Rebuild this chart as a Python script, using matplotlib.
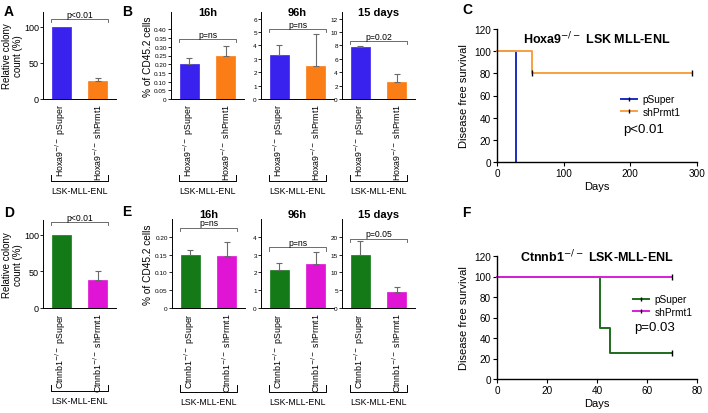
"""
Prmt1 knockdown in Hoxa9-/- and Ctnnb1-/- LSK-MLL-ENL cells
"""

import matplotlib
matplotlib.use('Agg')
import matplotlib.pyplot as plt  # pylint: disable=import-error
from matplotlib.lines import Line2D

plt.rcParams['font.family'] = ['Liberation Sans', 'DejaVu Sans']

FIG_W, FIG_H = 708, 414

# ---- data ----
hoxa_labels = [r'Hoxa9$^{-/-}$ pSuper', r'Hoxa9$^{-/-}$ shPrmt1']
ctnn_labels = [r'Ctnnb1$^{-/-}$ pSuper', r'Ctnnb1$^{-/-}$ shPrmt1']
group_label = 'LSK-MLL-ENL'
time_points = ['16h', '96h', '15 days']

colony_hoxa = [100, 25]
colony_hoxa_err = [0, 4]
colony_ctnn = [100, 38]
colony_ctnn_err = [0, 12]

cd45_hoxa = [[0.20, 0.25], [3.3, 2.45], [7.7, 2.6]]
cd45_hoxa_err = [[0.035, 0.055], [0.7, 2.4], [0.25, 1.1]]
cd45_ctnn = [[0.15, 0.145], [2.15, 2.5], [15.0, 4.4]]
cd45_ctnn_err = [[0.013, 0.04], [0.37, 0.67], [3.8, 1.5]]

pval_colony_hoxa = 'p<0.01'
pval_colony_ctnn = 'p<0.01'
pval_cd45_hoxa = ['p=ns', 'p=ns', 'p=0.02']
pval_cd45_ctnn = ['p=ns', 'p=ns', 'p=0.05']

# survival curves (step, post)
c_psuper_days = [0, 28]
c_psuper_surv = [100, 0]
c_shprmt_days = [0, 53, 293]
c_shprmt_surv = [100, 80, 80]
c_shprmt_cens = ([53, 293], [80, 80])

f_psuper_days = [0, 41, 45, 70]
f_psuper_surv = [100, 50, 25, 25]
f_psuper_cens = ([70], [25])
f_shprmt_days = [0, 70]
f_shprmt_surv = [100, 100]
f_shprmt_cens = ([70], [100])

BLUE = '#3a22ee'
ORANGE = '#fb7d16'
GREEN = '#137a17'
MAGENTA = '#e014d4'
K_BLUE = '#1e2bc0'
K_ORANGE = '#f7a041'
K_GREEN = '#1d6b1d'
K_MAGENTA = '#d81ed8'


def px_axes(fig, x0, x1, y0, y1):
    """add axes from pixel box (top-left origin)"""
    return fig.add_axes([x0 / FIG_W, 1 - y1 / FIG_H,
                         (x1 - x0) / FIG_W, (y1 - y0) / FIG_H])


def bar_panel(ax, values, errs, colors, labels, ylim, yticks, yticklabels,
              pval, bracket_y, tick_size, label_size=6.3):
    """bar chart in GraphPad style"""
    xs = [0, 1]
    ax.bar(xs, values, width=0.52, color=colors, edgecolor=colors, lw=0.5)
    for x, v, e in zip(xs, values, errs):
        if e > 0:
            ax.errorbar(x, v, yerr=[[0], [e]], color='#6a6a6a', lw=0.8,
                        capsize=2.5, capthick=0.8)
    ax.set_xlim(-0.5, 1.5)
    ax.set_ylim(*ylim)
    ax.set_yticks(yticks)
    ax.set_yticklabels(yticklabels)
    ax.tick_params(axis='y', labelsize=tick_size, length=2, width=0.6, pad=1)
    ax.set_xticks(xs)
    ax.set_xticklabels(labels, rotation=90, fontsize=label_size)
    ax.tick_params(axis='x', length=0, pad=3)
    for side in ('top', 'right'):
        ax.spines[side].set_visible(False)
    ax.spines['left'].set_linewidth(0.7)
    ax.spines['bottom'].set_linewidth(0.7)
    # significance bracket
    drop = (ylim[1] - ylim[0]) * 0.035
    ax.plot([-0.27, -0.27, 1.27, 1.27],
            [bracket_y - drop, bracket_y, bracket_y, bracket_y - drop],
            color='#555555', lw=0.6, clip_on=False)
    ax.text(0.5, bracket_y + drop * 0.2, pval, ha='center', va='bottom',
            fontsize=6.2)
    # group bracket beneath labels
    trans = ax.get_xaxis_transform()
    ax.plot([-0.27, -0.27, 1.27, 1.27], [-0.87, -0.94, -0.94, -0.87],
            color='black', lw=0.7, transform=trans, clip_on=False)
    ax.text(0.5, -1.0, group_label, ha='center', va='top', fontsize=6.3,
            transform=trans)


def surv_panel(ax, curves, xlim, xticks, title, title_y, leg_xy, ptext, p_xy):
    """Kaplan-Meier style panel"""
    handles = []
    for days, surv, cens, color, name in curves:
        ax.plot(days, surv, drawstyle='steps-post', color=color, lw=1.4,
                clip_on=False)
        if cens is not None:
            ax.plot(cens[0], cens[1], ls='none', marker='|', ms=4,
                    mew=1.0, color='black', clip_on=False)
        handles.append(Line2D([], [], color=color, lw=1.4, marker='|',
                              ms=3.5, mec='black', label=name))
    ax.set_xlim(*xlim)
    ax.set_ylim(0, 120)
    ax.set_xticks(xticks)
    ax.set_yticks(range(0, 121, 20))
    ax.tick_params(labelsize=7.2, length=3, width=0.8, pad=1.5)
    for side in ('top', 'right'):
        ax.spines[side].set_visible(False)
    ax.spines['left'].set_linewidth(1.0)
    ax.spines['bottom'].set_linewidth(1.0)
    ax.set_xlabel('Days', fontsize=8, labelpad=2)
    ax.set_ylabel('Disease free survival', fontsize=8)
    ax.yaxis.set_label_coords(-0.14, 0.5)
    ax.text(0.5, title_y, title, transform=ax.transAxes, ha='center',
            va='center', fontsize=9, fontweight='bold')
    ax.legend(handles=handles, loc='upper left', bbox_to_anchor=leg_xy,
              frameon=False, fontsize=7.3, handlelength=1.6,
              handletextpad=0.5, labelspacing=0.25, borderaxespad=0)
    ax.text(p_xy[0], p_xy[1], ptext, transform=ax.transAxes, fontsize=9.5,
            ha='left', va='center')


def main():
    """
    Build the six-panel figure
    """
    fig = plt.figure(figsize=(FIG_W / 100, FIG_H / 100), dpi=100)

    # ---- A ----
    ax = px_axes(fig, 43, 116, 13, 100)
    bar_panel(ax, colony_hoxa, colony_hoxa_err, [BLUE, ORANGE], hoxa_labels,
              (0, 120), [0, 50, 100], ['0', '50', '100'], pval_colony_hoxa,
              110, 6.5)
    ax.set_ylabel('Relative colony\ncount (%)', fontsize=7.0, linespacing=1.1)
    ax.yaxis.set_label_coords(-0.28, 0.5)

    # ---- B ----
    b_specs = [((0, 0.5), [i * 0.05 for i in range(9)],
                ['0'] + ['%.2f' % (i * 0.05) for i in range(1, 9)], 0.343),
               ((0, 6.5), range(7), [str(i) for i in range(7)], 5.2),
               ((0, 13), range(0, 13, 2), [str(i) for i in range(0, 13, 2)],
                8.6)]
    b_x = [171, 261, 342]
    for k, (ylim, ticks, tlabels, by) in enumerate(b_specs):
        ax = px_axes(fig, b_x[k], b_x[k] + 73, 13, 100)
        bar_panel(ax, cd45_hoxa[k], cd45_hoxa_err[k], [BLUE, ORANGE],
                  hoxa_labels, ylim, ticks, tlabels, pval_cd45_hoxa[k], by,
                  4.6)
        ax.text(0.5, 1.0, time_points[k], transform=ax.transAxes,
                ha='center', va='center', fontsize=8, fontweight='bold')
        if k == 0:
            ax.set_ylabel('% of CD45.2 cells', fontsize=7.3)
            ax.yaxis.set_label_coords(-0.25, 0.5)

    # ---- D ----
    ax = px_axes(fig, 43, 116, 221, 309)
    bar_panel(ax, colony_ctnn, colony_ctnn_err, [GREEN, MAGENTA], ctnn_labels,
              (0, 120), [0, 50, 100], ['0', '50', '100'], pval_colony_ctnn,
              117, 6.5)
    ax.set_ylabel('Relative colony\ncount (%)', fontsize=7.0, linespacing=1.1)
    ax.yaxis.set_label_coords(-0.28, 0.5)

    # ---- E ----
    e_specs = [((0, 0.25), [i * 0.05 for i in range(5)],
                ['0'] + ['%.2f' % (i * 0.05) for i in range(1, 5)], 0.226),
               ((0, 5), range(5), [str(i) for i in range(5)], 3.4),
               ((0, 25), range(0, 21, 5), [str(i) for i in range(0, 21, 5)],
                19.5)]
    e_x = [172, 261, 342]
    for k, (ylim, ticks, tlabels, by) in enumerate(e_specs):
        ax = px_axes(fig, e_x[k], e_x[k] + 73, 220, 309)
        bar_panel(ax, cd45_ctnn[k], cd45_ctnn_err[k], [GREEN, MAGENTA],
                  ctnn_labels, ylim, ticks, tlabels, pval_cd45_ctnn[k], by,
                  4.6)
        ax.text(0.5, 1.06, time_points[k], transform=ax.transAxes,
                ha='center', va='center', fontsize=8, fontweight='bold')
        if k == 0:
            ax.set_ylabel('% of CD45.2 cells', fontsize=7.3)
            ax.yaxis.set_label_coords(-0.26, 0.5)

    # ---- C ----
    ax = px_axes(fig, 497, 697, 30, 163)
    surv_panel(ax,
               [(c_psuper_days, c_psuper_surv, None, K_BLUE, 'pSuper'),
                (c_shprmt_days, c_shprmt_surv, c_shprmt_cens, K_ORANGE,
                 'shPrmt1')],
               (0, 300), [0, 100, 200, 300],
               r'Hoxa9$^{-/-}$ LSK MLL-ENL', 0.93, (0.6, 0.54),
               'p<0.01', (0.63, 0.25))

    # ---- F ----
    ax = px_axes(fig, 497, 697, 257, 380)
    surv_panel(ax,
               [(f_psuper_days, f_psuper_surv, f_psuper_cens, K_GREEN,
                 'pSuper'),
                (f_shprmt_days, f_shprmt_surv, f_shprmt_cens, K_MAGENTA,
                 'shPrmt1')],
               (0, 80), [0, 20, 40, 60, 80],
               r'Ctnnb1$^{-/-}$ LSK-MLL-ENL', 1.0, (0.66, 0.72),
               'p=0.03', (0.685, 0.42))

    # panel letters
    for letter, x, y in [('A', 4, 12), ('B', 122, 12), ('C', 462, 10),
                         ('D', 4, 213), ('E', 122, 212), ('F', 462, 213)]:
        fig.text(x / FIG_W, 1 - y / FIG_H, letter, fontsize=10,
                 fontweight='bold', ha='left', va='center')

    fig.savefig('out.png', dpi=100)


if __name__ == "__main__":
    main()
